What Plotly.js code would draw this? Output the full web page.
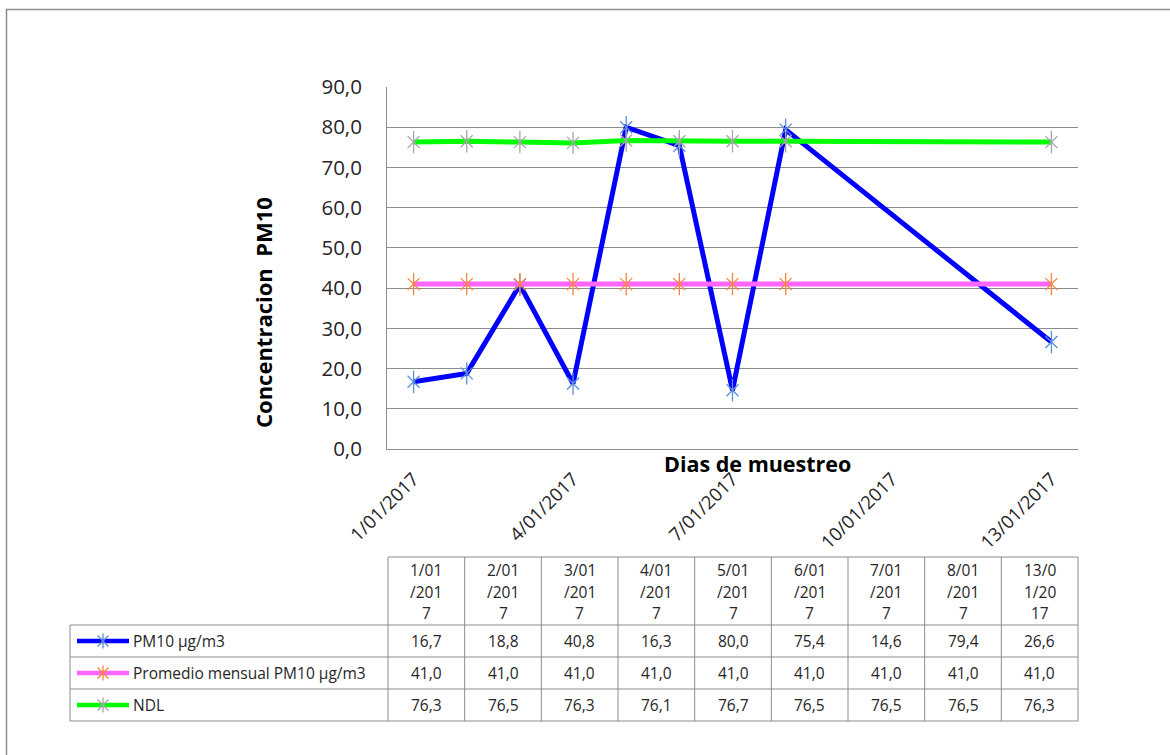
<!DOCTYPE html>
<html>
<head>
<meta charset="utf-8">
<script src="https://cdn.plot.ly/plotly-3.0.1.min.js"></script>
<style>html,body{margin:0;padding:0;background:#fff;}#chart{width:1170px;height:755px;}</style>
</head>
<body>
<div id="chart"></div>
<script>
// ---- data ----
const dates = ['2017-01-01','2017-01-02','2017-01-03','2017-01-04','2017-01-05','2017-01-06','2017-01-07','2017-01-08','2017-01-13'];
const dateLabels = ['1/01/2017','2/01/2017','3/01/2017','4/01/2017','5/01/2017','6/01/2017','7/01/2017','8/01/2017','13/01/2017'];
const seriesNames = ['PM10 µg/m3','Promedio mensual PM10 µg/m3','NDL'];
const pm10 = [16.7, 18.8, 40.8, 16.3, 80.0, 75.4, 14.6, 79.4, 26.6];
const promedio = [41.0, 41.0, 41.0, 41.0, 41.0, 41.0, 41.0, 41.0, 41.0];
const ndl = [76.3, 76.5, 76.3, 76.1, 76.7, 76.5, 76.5, 76.5, 76.3];
const yTitle = 'Concentracion  PM10';
const xTitle = 'Dias de muestreo';

// ---- styles ----
const W = 1170, H = 755;
const seriesValues = [pm10, promedio, ndl];
const lineColors = ['#0000ff', '#ff66ff', '#00ff00'];
const markerColors = ['#5b8fd8', '#f7843c', '#a6a6a6'];
const FONT = 'Open Sans, sans-serif';
const gridColor = '#8c8c8c';
const textColor = '#262626';

const px = x => x / W;
const py = y => 1 - y / H;

// plot area in pixels
const PL = 387, PR = 1078, PT = 87, PB = 449;

const traces = [];
seriesValues.forEach((vals, i) => {
  traces.push({
    x: dates, y: vals, type: 'scatter', mode: 'lines+markers', name: seriesNames[i],
    line: {color: lineColors[i], width: 5},
    marker: {symbol: 'x-thin-open', size: 12, color: markerColors[i], line: {color: markerColors[i], width: 1.3}},
    cliponaxis: false, hoverinfo: 'skip'
  });
  traces.push({
    x: dates, y: vals, type: 'scatter', mode: 'markers', showlegend: false,
    marker: {symbol: 'line-ns-open', size: 16, color: markerColors[i], line: {color: markerColors[i], width: 1.3}},
    cliponaxis: false, hoverinfo: 'skip'
  });
});

// ---- data table (shapes + annotations) ----
const shapes = [];
const annotations = [];
const TL = 70, TX0 = 388, TX1 = 1078, TY0 = 557, HY = 625, RH = 32;
const nCols = dates.length;
const colW = (TX1 - TX0) / nCols;
const rowEdges = [HY, HY + RH, HY + 2 * RH, HY + 3 * RH];
const borderLine = {color: gridColor, width: 1};

// outer chart border
shapes.push({type: 'rect', xref: 'paper', yref: 'paper', x0: px(6.5), x1: px(1185), y0: py(9.5), y1: py(775),
  line: {color: gridColor, width: 1.5}, fillcolor: 'rgba(0,0,0,0)'});

shapes.push({type: 'line', xref: 'paper', yref: 'paper', x0: px(TX0), x1: px(TX1), y0: py(TY0), y1: py(TY0), line: borderLine});
rowEdges.forEach(y => shapes.push({type: 'line', xref: 'paper', yref: 'paper', x0: px(TL), x1: px(TX1), y0: py(y), y1: py(y), line: borderLine}));
shapes.push({type: 'line', xref: 'paper', yref: 'paper', x0: px(TL), x1: px(TL), y0: py(HY), y1: py(rowEdges[3]), line: borderLine});
for (let c = 0; c <= nCols; c++) {
  const x = TX0 + c * colW;
  shapes.push({type: 'line', xref: 'paper', yref: 'paper', x0: px(x), x1: px(x), y0: py(TY0), y1: py(rowEdges[3]), line: borderLine});
}

const tableFont = {family: FONT, size: 15.5, color: textColor};
// header: labels wrapped every 4 characters
dateLabels.forEach((lab, c) => {
  const chunks = lab.match(/.{1,4}/g);
  const cx = TX0 + (c + 0.5) * colW;
  chunks.forEach((ch, k) => {
    annotations.push({xref: 'paper', yref: 'paper', x: px(cx), y: py(570 + k * 21.5), text: ch, showarrow: false,
      xanchor: 'center', yanchor: 'middle', font: tableFont});
  });
});
// rows
seriesValues.forEach((vals, r) => {
  const cy = rowEdges[r] + RH / 2;
  vals.forEach((v, c) => {
    const cx = TX0 + (c + 0.5) * colW;
    annotations.push({xref: 'paper', yref: 'paper', x: px(cx), y: py(cy), text: v.toFixed(1).replace('.', ','),
      showarrow: false, xanchor: 'center', yanchor: 'middle', font: tableFont});
  });
  annotations.push({xref: 'paper', yref: 'paper', x: px(131), y: py(cy), text: seriesNames[r], showarrow: false,
    xanchor: 'left', yanchor: 'middle', font: tableFont});
  // legend key
  shapes.push({type: 'line', xref: 'paper', yref: 'paper', x0: px(77), x1: px(129), y0: py(cy), y1: py(cy),
    line: {color: lineColors[r], width: 4.5}});
  const mx = 103, a = 5.5, b = 7.5;
  const path = `M${px(mx - a)},${py(cy - a)}L${px(mx + a)},${py(cy + a)}M${px(mx - a)},${py(cy + a)}L${px(mx + a)},${py(cy - a)}M${px(mx)},${py(cy - b)}L${px(mx)},${py(cy + b)}`;
  shapes.push({type: 'path', xref: 'paper', yref: 'paper', path: path, line: {color: markerColors[r], width: 1.3}});
});

// axis titles
annotations.push({xref: 'paper', yref: 'paper', x: px(757), y: py(463), text: '<b>' + xTitle + '</b>', showarrow: false,
  xanchor: 'center', yanchor: 'middle', font: {family: FONT, size: 21.5, color: '#000'}});
annotations.push({xref: 'paper', yref: 'paper', x: px(263), y: py(313), text: '<b>' + yTitle + '</b>', showarrow: false,
  textangle: -90, xanchor: 'center', yanchor: 'middle', font: {family: FONT, size: 22, color: '#000'}});

const layout = {
  width: W, height: H,
  margin: {l: 0, r: 0, t: 0, b: 0},
  paper_bgcolor: '#ffffff', plot_bgcolor: 'rgba(0,0,0,0)',
  separators: ',.',
  showlegend: false,
  font: {family: FONT, color: textColor},
  xaxis: {
    domain: [px(PL), px(PR)], type: 'date',
    range: ['2016-12-31 12:00', '2017-01-13 12:00'],
    tick0: '2017-01-01', dtick: 3 * 86400000, tickformat: '%-d/%m/%Y', tickangle: -45,
    ticks: '', showgrid: false, showline: true, linecolor: gridColor, linewidth: 1, zeroline: false,
    tickfont: {family: FONT, size: 18.5, color: textColor}, ticklabelstandoff: 11
  },
  yaxis: {
    domain: [py(PB), py(PT)], range: [0, 90], dtick: 10, tick0: 0, tickformat: '.1f',
    ticks: '', showgrid: true, gridcolor: gridColor, gridwidth: 1, showline: true, linecolor: gridColor, linewidth: 1,
    zeroline: false, tickfont: {family: FONT, size: 20.5, color: textColor}, ticklabelstandoff: 20
  },
  shapes: shapes,
  annotations: annotations
};

Plotly.newPlot('chart', traces, layout, {staticPlot: true, displayModeBar: false});
</script>
</body>
</html>
